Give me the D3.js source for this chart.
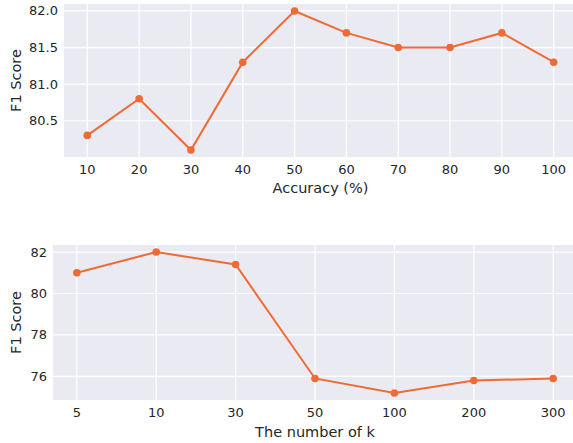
<!DOCTYPE html>
<html>
<head>
<meta charset="utf-8">
<script src="https://cdn.jsdelivr.net/npm/d3@7"></script>
<style>
  body { margin: 0; background: #fff; }
  text { font-family: "DejaVu Sans", sans-serif; fill: #262626; }
</style>
</head>
<body>
<div id="chart"></div>
<script>
// top panel: F1 vs accuracy
const accCategories = ["10", "20", "30", "40", "50", "60", "70", "80", "90", "100"];
const accF1 = [80.3, 80.8, 80.1, 81.3, 82.0, 81.7, 81.5, 81.5, 81.7, 81.3];
const accYTicks = [80.5, 81.0, 81.5, 82.0];

// bottom panel: F1 vs k
const kCategories = ["5", "10", "30", "50", "100", "200", "300"];
const kF1 = [81.0, 82.0, 81.4, 75.9, 75.2, 75.8, 75.9];
const kYTicks = [76, 78, 80, 82];

const width = 573, height = 443;
const lineColor = "#ee6b35";

const svg = d3.select("#chart").append("svg")
  .attr("width", width)
  .attr("height", height);

function drawPanel(cfg) {
  const { cats, vals, yTicks, yFmt, left, right, top, bottom, yDomain, xLabel, xLabelY } = cfg;
  const n = cats.length;

  const x = d3.scaleLinear()
    .domain([-0.05 * (n - 1), (n - 1) * 1.05])
    .range([left, right]);
  const y = d3.scaleLinear().domain(yDomain).range([bottom, top]);

  const g = svg.append("g");

  g.append("rect")
    .attr("x", left).attr("y", top)
    .attr("width", right - left).attr("height", bottom - top)
    .attr("fill", "#eaeaf2");

  // grid
  g.selectAll(".vgrid").data(cats).enter().append("line")
    .attr("x1", (d, i) => x(i)).attr("x2", (d, i) => x(i))
    .attr("y1", top).attr("y2", bottom)
    .attr("stroke", "#fff").attr("stroke-width", 1.2);
  g.selectAll(".hgrid").data(yTicks).enter().append("line")
    .attr("x1", left).attr("x2", right)
    .attr("y1", d => y(d)).attr("y2", d => y(d))
    .attr("stroke", "#fff").attr("stroke-width", 1.2);

  // x ticks
  g.selectAll(".xt").data(cats).enter().append("text")
    .attr("x", (d, i) => x(i))
    .attr("y", bottom + 17)
    .attr("text-anchor", "middle")
    .attr("font-size", 13)
    .text(d => d);

  // y ticks
  g.selectAll(".yt").data(yTicks).enter().append("text")
    .attr("x", left - 6)
    .attr("y", d => y(d) + 4.5)
    .attr("text-anchor", "end")
    .attr("font-size", 13)
    .text(d => yFmt(d));

  const line = d3.line()
    .x((d, i) => x(i))
    .y(d => y(d));

  g.append("path")
    .datum(vals)
    .attr("fill", "none")
    .attr("stroke", lineColor)
    .attr("stroke-width", 2)
    .attr("d", line);

  g.selectAll(".pt").data(vals).enter().append("circle")
    .attr("cx", (d, i) => x(i))
    .attr("cy", d => y(d))
    .attr("r", 3.8)
    .attr("fill", lineColor);

  g.append("text")
    .attr("x", (left + right) / 2)
    .attr("y", xLabelY)
    .attr("text-anchor", "middle")
    .attr("font-size", 14.5)
    .text(xLabel);

  g.append("text")
    .attr("transform", `translate(21,${(top + bottom) / 2}) rotate(-90)`)
    .attr("text-anchor", "middle")
    .attr("font-size", 14.5)
    .text("F1 Score");
}

drawPanel({
  cats: accCategories, vals: accF1, yTicks: accYTicks,
  yFmt: d3.format(".1f"),
  left: 64, right: 577, top: 4, bottom: 157,
  yDomain: [80.005, 82.095],
  xLabel: "Accuracy (%)", xLabelY: 193
});

drawPanel({
  cats: kCategories, vals: kF1, yTicks: kYTicks,
  yFmt: d3.format("d"),
  left: 53, right: 577, top: 245, bottom: 400,
  yDomain: [74.86, 82.34],
  xLabel: "The number of k", xLabelY: 437
});
</script>
</body>
</html>
